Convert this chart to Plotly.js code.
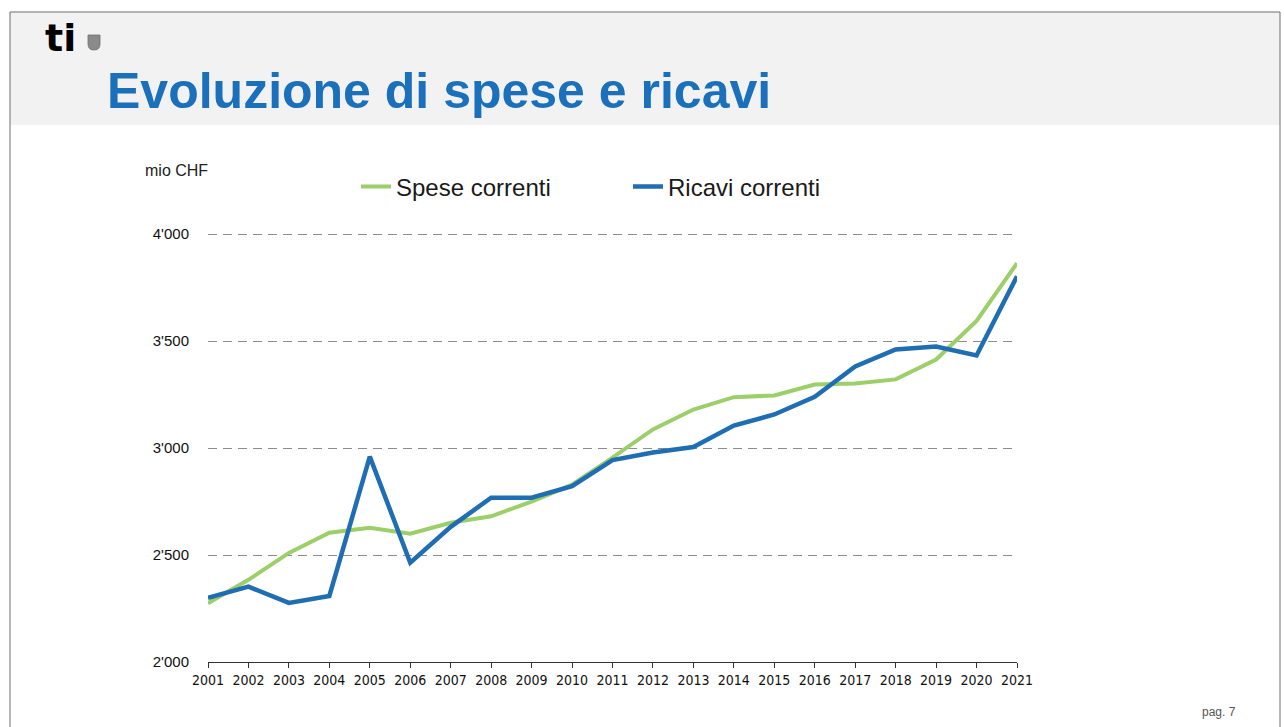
<!DOCTYPE html>
<html>
<head>
<meta charset="utf-8">
<script src="https://cdn.plot.ly/plotly-3.0.1.min.js"></script>
<style>
  html, body { margin: 0; padding: 0; background: #ffffff; }
  #chart { width: 1284px; height: 727px; }
</style>
</head>
<body>
<div id="chart"></div>
<script>
// ---- data ----
var years = [2001, 2002, 2003, 2004, 2005, 2006, 2007, 2008, 2009, 2010, 2011,
             2012, 2013, 2014, 2015, 2016, 2017, 2018, 2019, 2020, 2021];
var speseCorrenti = [2275, 2384, 2510, 2604, 2627, 2600, 2651, 2681, 2750, 2829, 2955,
                     3087, 3180, 3238, 3246, 3297, 3302, 3321, 3414, 3594, 3864];
var ricaviCorrenti = [2300, 2352, 2276, 2309, 2960, 2464, 2632, 2768, 2768, 2822, 2944,
                      2979, 3005, 3105, 3157, 3240, 3382, 3461, 3475, 3433, 3803];
var seriesNames = ['Spese correnti', 'Ricavi correnti'];
var xTickText = years.map(function (y) { return String(y); });
var yTickVals = [2000, 2500, 3000, 3500, 4000];
var yTickText = ["2'000", "2'500", "3'000", "3'500", "4'000"];
var titleText = 'Evoluzione di spese e ricavi';
var unitText = 'mio CHF';
var pageText = 'pag. 7';

// ---- geometry helpers (pixel -> paper) ----
var W = 1284, H = 727;
var L = 208, R = 1017, T = 232, B = 662;
function px(x) { return (x - L) / (R - L); }
function py(y) { return (B - y) / (B - T); }

var GREEN = '#9ccf6a';
var BLUE = '#1f6db3';
var narrow = 'Liberation Sans Narrow, Arial Narrow, DejaVu Sans Condensed, sans-serif';
var sans = 'Liberation Sans, Arial, sans-serif';

var traces = [
  {
    x: years, y: speseCorrenti, name: seriesNames[0], type: 'scatter', mode: 'lines',
    line: { color: GREEN, width: 4 }, hoverinfo: 'x+y'
  },
  {
    x: years, y: ricaviCorrenti, name: seriesNames[1], type: 'scatter', mode: 'lines',
    line: { color: BLUE, width: 4.5 }, hoverinfo: 'x+y'
  }
];

var shieldPath = 'M' + px(88) + ',' + py(35) + ' L' + px(100) + ',' + py(35) +
  ' L' + px(100) + ',' + py(44) + ' Q' + px(100) + ',' + py(50) + ' ' + px(94) + ',' + py(50) +
  ' Q' + px(88) + ',' + py(50) + ' ' + px(88) + ',' + py(44) + ' Z';

var layout = {
  width: W, height: H,
  paper_bgcolor: '#ffffff', plot_bgcolor: '#ffffff',
  margin: { l: L, r: W - R, t: T, b: H - B, pad: 0 },
  showlegend: true,
  legend: {
    orientation: 'h', x: px(356), xanchor: 'left', y: py(187), yanchor: 'middle',
    font: { family: sans, size: 24, color: '#1a1a1a' },
    bgcolor: 'rgba(0,0,0,0)', borderwidth: 0,
    entrywidth: 227, entrywidthmode: 'pixels', itemwidth: 30
  },
  title: {
    text: titleText,
    font: { family: sans, size: 50, color: '#1a70bb', weight: 700 },
    xref: 'container', x: 107 / W, xanchor: 'left',
    yref: 'container', y: 1 - 90 / H, yanchor: 'middle'
  },
  xaxis: {
    type: 'linear', range: [2001, 2021],
    tickmode: 'array', tickvals: years, ticktext: xTickText,
    ticks: 'outside', ticklen: 5, tickwidth: 1, tickcolor: '#333333',
    showline: true, linecolor: '#333333', linewidth: 1.3,
    showgrid: false, zeroline: false,
    tickfont: { family: narrow, size: 14, color: '#111111' },
    fixedrange: true
  },
  yaxis: {
    range: [2000, 4010],
    tickmode: 'array', tickvals: yTickVals, ticktext: yTickText,
    ticks: '', showline: false, zeroline: false,
    showgrid: true, gridcolor: '#8c8c8c', gridwidth: 1, griddash: '9px,6px',
    ticklabelstandoff: 18,
    tickfont: { family: sans, size: 15, color: '#111111' },
    fixedrange: true
  },
  shapes: [
    { type: 'rect', xref: 'paper', yref: 'paper', layer: 'below',
      x0: px(10), x1: px(1280), y0: py(125), y1: py(12),
      fillcolor: '#f2f2f2', line: { width: 0 } },
    { type: 'line', xref: 'paper', yref: 'paper', layer: 'above',
      x0: px(10), x1: px(1280), y0: py(12), y1: py(12),
      line: { color: '#6e6e6e', width: 1 } },
    { type: 'line', xref: 'paper', yref: 'paper', layer: 'above',
      x0: px(10), x1: px(10), y0: py(12), y1: py(727),
      line: { color: '#6e6e6e', width: 1 } },
    { type: 'line', xref: 'paper', yref: 'paper', layer: 'above',
      x0: px(1280), x1: px(1280), y0: py(12), y1: py(727),
      line: { color: '#6e6e6e', width: 1 } },
    { type: 'path', xref: 'paper', yref: 'paper', layer: 'above',
      path: shieldPath, fillcolor: '#8a8a8a', line: { color: '#6f6f6f', width: 0.8 } }
  ],
  annotations: [
    { text: '<b>ti</b>', xref: 'paper', yref: 'paper', x: px(43), y: py(38),
      xanchor: 'left', yanchor: 'middle', showarrow: false,
      font: { family: 'DejaVu Sans, sans-serif', size: 38, color: '#000000', weight: 900 } },
    { text: unitText, xref: 'paper', yref: 'paper', x: px(143), y: py(170),
      xanchor: 'left', yanchor: 'middle', showarrow: false,
      font: { family: sans, size: 16, color: '#222222' } },
    { text: pageText, xref: 'paper', yref: 'paper', x: px(1238), y: py(712),
      xanchor: 'right', yanchor: 'middle', showarrow: false,
      font: { family: sans, size: 12, color: '#555555' } }
  ]
};

Plotly.newPlot('chart', traces, layout, { displayModeBar: false, staticPlot: true });
</script>
</body>
</html>
